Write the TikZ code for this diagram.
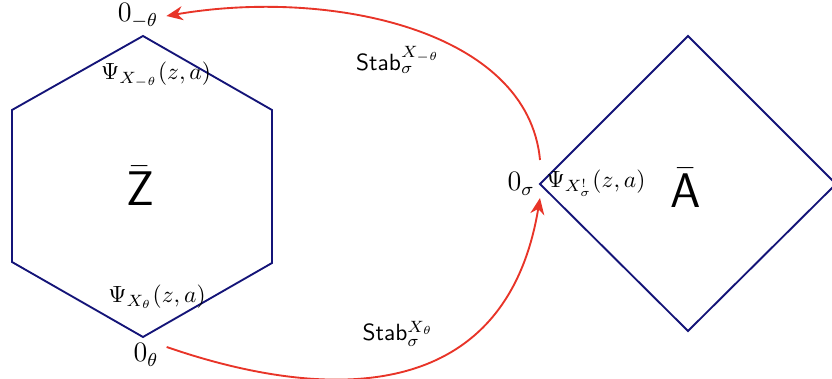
\documentclass[tikz,border=0pt]{standalone}
\usepackage{amsmath}
\usepackage{tikz}
\usetikzlibrary{arrows.meta, positioning, calc}
\definecolor{hexnavy}       {RGB}{20,  20,  120}
\definecolor{stabred}       {RGB}{232, 52,  40}

\begin{document}
\begin{tikzpicture}[x=0.015cm,y=-0.015cm,
		edge/.style={thick,hexnavy,line join=miter},
		stabarrow/.style={thick,stabred,-{Stealth[length=7pt,width=6pt]}},
		region/.style={font=\sffamily\huge}]
				\useasboundingbox (0,0) rectangle (832,379);
				% hexagon Z
				\coordinate (ht) at (143,36);  \coordinate (hur) at (272,110);
				\coordinate (hlr) at (272,263); \coordinate (hb) at (143,337);
				\coordinate (hll) at (12,262); \coordinate (hul) at (12,110);
				\draw[edge] (ht)--(hur)--(hlr)--(hb)--(hll)--(hul)--cycle;
				% diamond A
				\coordinate (dl) at (540,184); \coordinate (dt) at (688,36);
				\coordinate (dr) at (836,184); \coordinate (db) at (688,331);
				\begin{scope}
					\clip (0,0) rectangle (832,379);
					\draw[edge] (dl)--(dt)--(dr)--(db)--cycle;
				\end{scope}
				\node[region] (zbar) at (140,186) {$\bar{\text{Z}}$};
				\node[region] (abar) at (686,188) {$\bar{\text{A}}$};
				\node[font=\large] (omt) at (138,16) {$0_{-\theta}$};
				\node[font=\large] (oth) at (146,355) {$0_{\theta}$};
				\node[font=\large] (osg) at (521,184) {$0_{\sigma}$};
				\node (psimt) at (156,75) {$\Psi_{X_{-\theta}}(z,a)$};
				\node (psith) at (157,297) {$\Psi_{X_{\theta}}(z,a)$};
				\node (psisg) at (596,183) {$\Psi_{X^{!}_{\sigma}}(z,a)$};
				\node[font=\sffamily] (stabmt) at (398,60) {Stab$_{\sigma}^{X_{-\theta}}$};
				\node[font=\sffamily] (stabth) at (398,334) {Stab$_{\sigma}^{X_{\theta}}$};
				% arrows
				\coordinate (up) at ($(dl)+(0,-24)$);
				\coordinate (dn) at ($(dl)+(0,14)$);
				\coordinate (ob) at ($(oth.east)+(0,-8)$);
				\draw[stabarrow] (up) .. controls (528,30) and (330,-12) .. (omt.east);
				\draw[stabarrow] (ob) .. controls (320,400) and (505,410) .. (dn);
			\end{tikzpicture}
\end{document}
